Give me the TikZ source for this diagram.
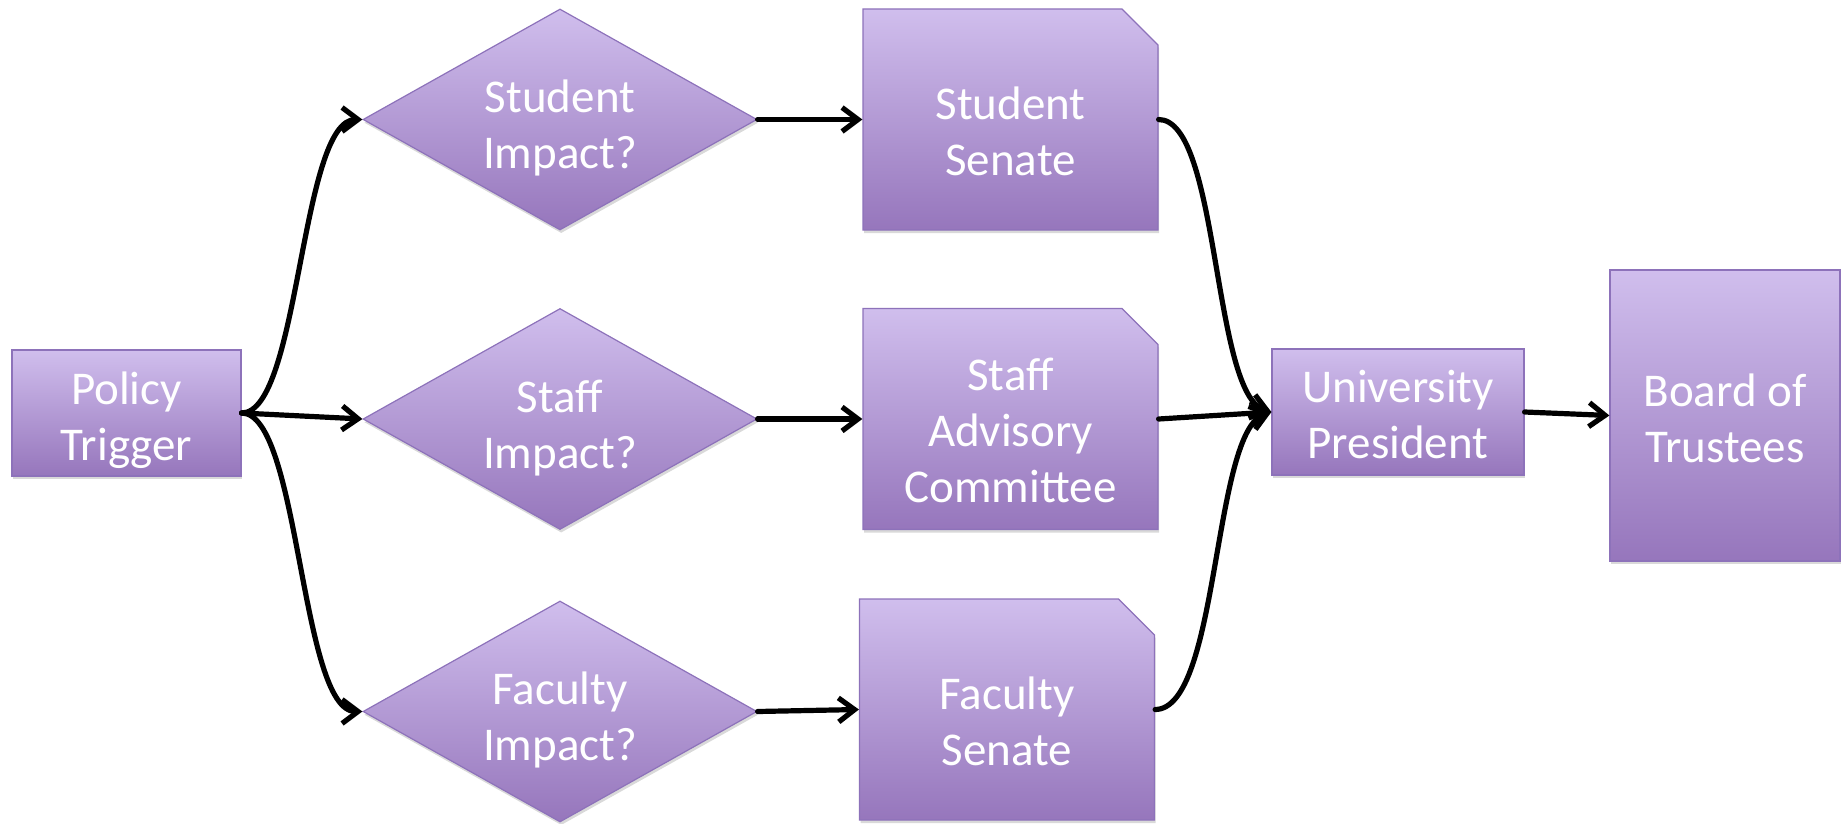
\documentclass[tikz,border=0pt]{standalone}
\usepackage{fontspec}
\setmainfont{Carlito}
\usetikzlibrary{arrows.meta,shapes.geometric,shapes.misc,shadows}
\definecolor{lavtop}{RGB}{208,190,237}
\definecolor{lavbot}{RGB}{150,118,188}
\definecolor{lavline}{RGB}{141,114,186}
\tikzset{
  base/.style={draw=lavline, line width=0.6pt, top color=lavtop, bottom color=lavbot, inner sep=0pt,
    drop shadow={shadow xshift=0.6pt, shadow yshift=-1.6pt, opacity=0.3}},
  words/.style={text=white, align=center, font=\fontsize{23.5}{28}\selectfont, inner sep=0pt},
  box/.style={base, rectangle},
  decision/.style={base, diamond, minimum width=197pt, minimum height=110.5pt},
  body/.style={base, chamfered rectangle, chamfered rectangle corners=north east,
    inner sep=24pt, chamfered rectangle xsep=9pt, chamfered rectangle ysep=9pt,
    minimum width=147.5pt, minimum height=110.5pt},
  link/.style={->, line width=2.6pt, line cap=round, line join=round}
}
\begin{document}
\begin{tikzpicture}[x=0.5pt,y=-0.5pt,>={Straight Barb[length=8pt,width=12pt]}]
\useasboundingbox (0,0) rectangle (1847,824);
\node[box, minimum width=114.5pt, minimum height=63pt,
  label={[words,yshift=-3.7pt]center:{Policy\\Trigger}}] (policy) at (126.5,413) {};
\node[decision, label={[words,yshift=-4.4pt]center:{Student\\Impact?}}] (stuq) at (560,119.5) {};
\node[decision, label={[words,yshift=-4.4pt]center:{Staff\\Impact?}}] (staq) at (560,419) {};
\node[decision, label={[words,yshift=-4.4pt]center:{Faculty\\Impact?}}] (facq) at (560,711.5) {};
\node[body, label={[words,yshift=-6pt]center:{Student\\Senate}}] (stus) at (1010.5,119.5) {};
\node[body, label={[words,yshift=-5.6pt]center:{Staff\\Advisory\\Committee}}] (stac) at (1010.5,419) {};
\node[body, label={[words,yshift=-6pt]center:{Faculty\\Senate}}] (facs) at (1007,709.5) {};
\node[box, minimum width=126pt, minimum height=63pt,
  label={[words,yshift=-1.3pt]center:{University\\President}}] (pres) at (1398,412) {};
\node[box, minimum width=115pt, minimum height=145.5pt,
  label={[words,yshift=-1.3pt]center:{Board of\\Trustees}}] (board) at (1725,415.5) {};
% policy to the three questions
\draw[link] (policy.east) .. controls (300,413) and (300,119.5) .. (stuq.west);
\draw[link] (policy.east) -- (staq.west);
\draw[link] (policy.east) .. controls (300,413) and (300,711.5) .. (facq.west);
\draw[link] (stuq.east) -- (stus.west);
\draw[link] (staq.east) -- (stac.west);
\draw[link] (facq.east) -- (facs.west);
% bodies to the president
\draw[link] (stus.east) .. controls (1220,119.5) and (1212,395) .. (pres.west);
\draw[link] (stac.east) -- (pres.west);
\draw[link] (facs.east) .. controls (1220,709.5) and (1212,430) .. (pres.west);
\draw[link] (pres.east) -- (board.west);
\end{tikzpicture}
\end{document}
